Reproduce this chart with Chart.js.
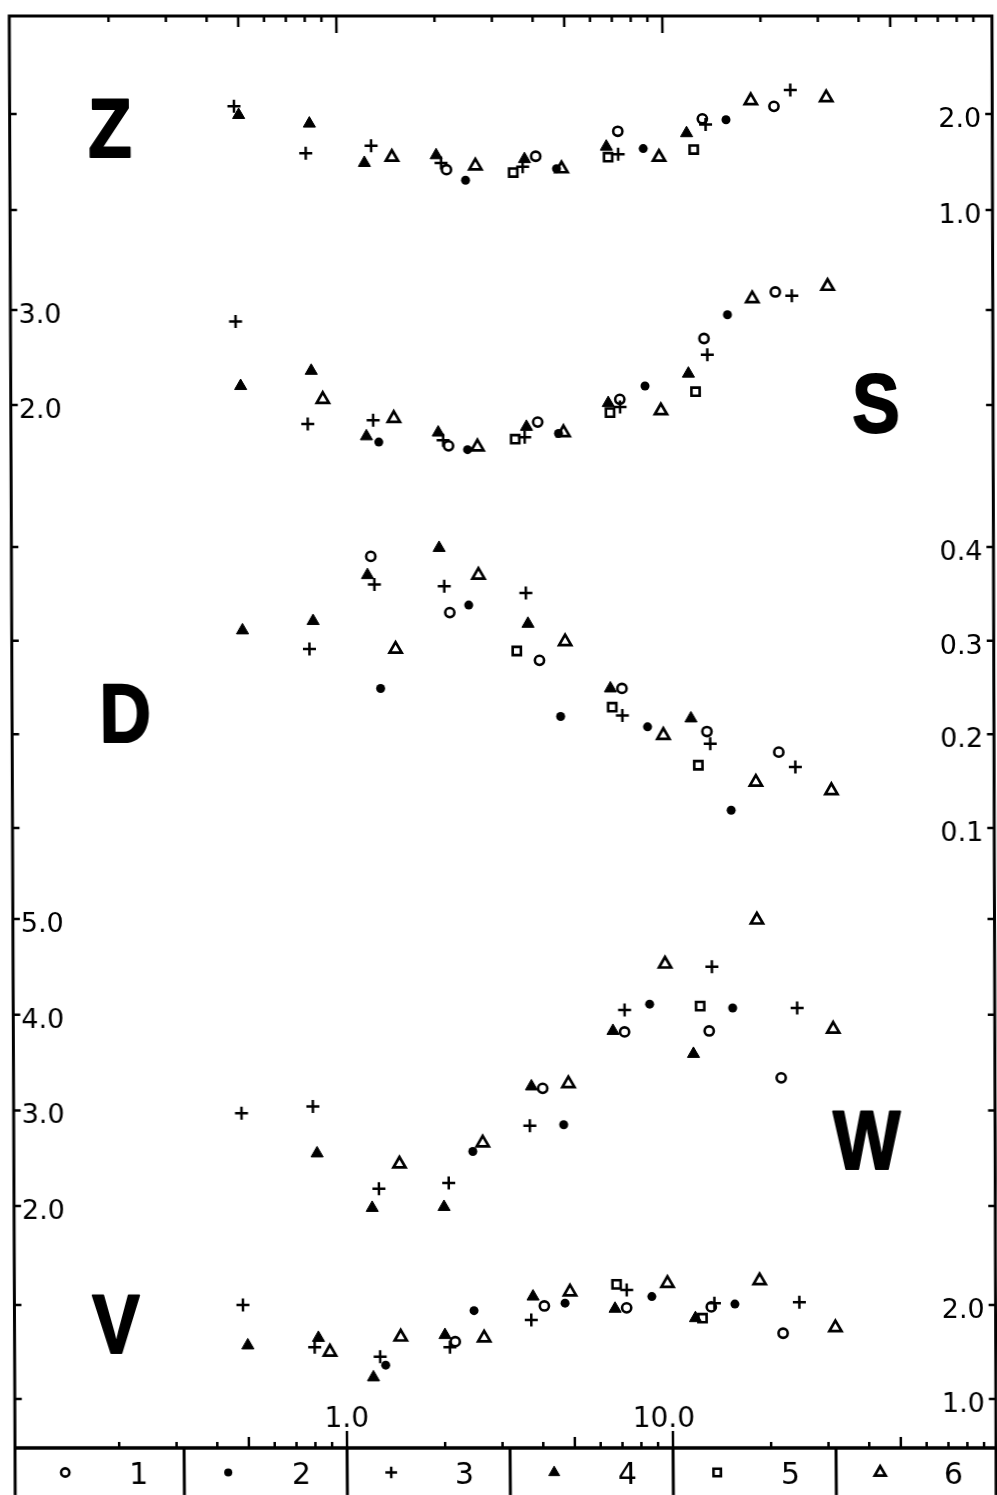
<!DOCTYPE html>
<html>
<head>
<meta charset="utf-8">
<script src="https://cdn.jsdelivr.net/npm/chart.js@4.4.1/dist/chart.umd.min.js"></script>
<style>
  html, body { margin: 0; padding: 0; background: #fff; overflow: hidden; }
  /* the scanned plate leans a little: top drifts left of the bottom */
  #wrap { width: 1006px; height: 1495px; transform: skewX(0.43deg); transform-origin: 0 1448px; }
  canvas { display: block; }
</style>
</head>
<body>
<div id="wrap"><canvas id="chart" width="1006" height="1495" style="width:1006px;height:1495px"></canvas></div>
<script>
// x values (log axis) of the six series, same for every panel
const xOpenCircle   = [1.24, 2.16, 4.06, 7.26, 13.2, 21.9];
const xDot          = [1.32, 2.47, 4.70, 8.68, 15.6];
const xPlus         = [0.483, 0.800, 1.27, 2.08, 3.70, 7.27, 13.5, 24.6];
const xTriangle     = [0.499, 0.822, 1.21, 2.01, 3.75, 6.69, 11.8];
const xSquare       = [3.46, 6.77, 12.4];
const xOpenTriangle = [0.891, 1.47, 2.65, 4.87, 9.70, 18.6, 31.7];

// y values per panel, one row per series (1 ○, 2 •, 3 +, 4 ▲, 5 □, 6 △)
const valuesZ = [
  [null, 1.42, 1.56, 1.82, 1.95, 2.08],
  [null, 1.31, 1.43, 1.64, 1.94],
  [2.08, 1.59, 1.67, 1.49, 1.45, 1.58, 1.89, 2.25],
  [1.99, 1.90, 1.49, 1.57, 1.53, 1.66, 1.80],
  [1.39, 1.55, 1.63],
  [null, 1.55, 1.46, 1.43, 1.55, 2.14, 2.17]
];
const valuesS = [
  [null, 1.57, 1.82, 2.06, 2.70, 3.19],
  [1.61, 1.53, 1.70, 2.20, 2.95],
  [2.88, 1.80, 1.84, 1.63, 1.66, 1.98, 2.53, 3.15],
  [2.20, 2.36, 1.67, 1.71, 1.77, 2.02, 2.33],
  [1.64, 1.92, 2.14],
  [2.06, 1.86, 1.56, 1.71, 1.94, 3.12, 3.25]
];
const valuesD = [
  [0.390, 0.330, 0.279, 0.249, 0.203, 0.181],
  [0.249, 0.338, 0.219, 0.208, 0.119],
  [null, 0.291, 0.360, 0.358, 0.351, 0.220, 0.190, 0.165],
  [0.311, 0.321, 0.370, 0.399, 0.318, 0.249, 0.217],
  [0.289, 0.229, 0.167],
  [null, 0.291, 0.370, 0.299, 0.199, 0.149, 0.140]
];
const valuesW = [
  [null, null, 3.23, 3.82, 3.83, 3.34],
  [null, 2.57, 2.85, 4.11, 4.07],
  [2.97, 3.04, 2.18, 2.24, 2.84, 4.05, 4.50, 4.07],
  [null, 2.55, 1.98, 1.99, 3.25, 3.83, 3.59],
  [null, null, 4.09],
  [null, 2.44, 2.66, 3.28, 4.53, 4.99, 3.85]
];
const valuesV = [
  [null, 1.61, 1.99, 1.97, 1.98, 1.70],
  [1.36, 1.94, 2.02, 2.09, 2.01],
  [2.00, 1.55, 1.45, 1.55, 1.84, 2.16, 2.02, 2.03],
  [1.57, 1.65, 1.23, 1.68, 2.09, 1.96, 1.86],
  [null, 2.22, 1.86],
  [1.50, 1.66, 1.65, 2.14, 2.23, 2.26, 1.76]
];

// tick labels
const ticksZ = [1.0, 2.0];
const ticksS = [2.0, 3.0];
const ticksD = [0.1, 0.2, 0.3, 0.4];
const ticksW = [2.0, 3.0, 4.0, 5.0];
const ticksV = [1.0, 2.0];
const xTickLabels = ['1.0', '10.0'];
const legendNumbers = ['1', '2', '3', '4', '5', '6'];

const seriesX = [xOpenCircle, xDot, xPlus, xTriangle, xSquare, xOpenTriangle];

// marker look of each series
const seriesStyles = [
  { pointStyle: 'circle',   radius: 4.6, fill: false, lw: 2.6 },
  { pointStyle: 'circle',   radius: 4.5, fill: true,  lw: 0 },
  { pointStyle: 'cross',    radius: 6.5, fill: false, lw: 2.5 },
  { pointStyle: 'triangle', radius: 7,   fill: true,  lw: 1 },
  { pointStyle: 'rect',     radius: 5.8, fill: false, lw: 2.6 },
  { pointStyle: 'triangle', radius: 7,   fill: false, lw: 2.7 }
];

// stacked panels: each one has its own y axis over the whole height
const panels = [
  { name: 'Z', values: valuesZ, ticks: ticksZ, side: 'right', min: -11.896, max: 3.021,  letterAt: [0.201, 1.86] },
  { name: 'S', values: valuesS, ticks: ticksS, side: 'left',  min: -8.979,  max: 6.095,  letterAt: [44.3, 2.03] },
  { name: 'D', values: valuesD, ticks: ticksD, side: 'right', min: -0.562,  max: 0.967,  letterAt: [0.217, 0.224] },
  { name: 'W', values: valuesW, ticks: ticksW, side: 'left',  min: -0.529,  max: 14.439, letterAt: [40.0, 2.70] },
  { name: 'V', values: valuesV, ticks: ticksV, side: 'right', min: 0.479,   max: 15.713, letterAt: [0.197, 1.81] }
];

const datasets = [];
panels.forEach(function(p) {
  p.values.forEach(function(row, s) {
    const st = seriesStyles[s];
    datasets.push({
      label: p.name + (s + 1),
      yAxisID: 'y' + p.name,
      data: seriesX[s].map((x, i) => ({ x: x, y: row[i] })).filter(d => d.y !== null && d.y !== undefined),
      pointStyle: st.pointStyle,
      pointRadius: st.radius,
      pointBorderWidth: st.lw,
      pointBackgroundColor: st.fill ? '#000' : 'rgba(0,0,0,0)',
      pointBorderColor: '#000',
      showLine: false
    });
  });
});

const scales = {
  x: { type: 'logarithmic', min: 0.0958, max: 97.9, display: false }
};
panels.forEach(function(p) {
  scales['y' + p.name] = { type: 'linear', min: p.min, max: p.max, display: false };
});

function drawMarker(ctx, st, x, y, scale) {
  ctx.fillStyle = st.fill ? '#000' : 'rgba(0,0,0,0)';
  ctx.strokeStyle = '#000';
  ctx.lineWidth = st.lw;
  Chart.helpers.drawPoint(ctx, { pointStyle: st.pointStyle, radius: st.radius * scale, rotation: 0, borderWidth: st.lw }, x, y);
}

// frame, ticks, labels, panel letters and the key row under the plot
const framePlugin = {
  id: 'frame',
  afterDraw(chart) {
    const ctx = chart.ctx;
    const a = chart.chartArea;
    const xs = chart.scales.x;
    const h = a.bottom - a.top;
    const leftAt = y => a.left + 5 * (a.bottom - y) / h;
    const rightAt = y => a.right + 6.7 * (a.bottom - y) / h;
    const foot = chart.height;

    ctx.save();
    ctx.strokeStyle = '#000';
    ctx.fillStyle = '#000';

    // outer frame and bottom axis line
    ctx.lineWidth = 3;
    ctx.beginPath();
    ctx.moveTo(leftAt(foot), foot);
    ctx.lineTo(leftAt(a.top), a.top);
    ctx.lineTo(rightAt(a.top), a.top);
    ctx.lineTo(rightAt(foot), foot);
    ctx.stroke();
    ctx.lineWidth = 3.5;
    ctx.beginPath();
    ctx.moveTo(leftAt(a.bottom), a.bottom);
    ctx.lineTo(rightAt(a.bottom), a.bottom);
    ctx.stroke();

    // log ticks top and bottom, pointing inwards
    ctx.lineWidth = 2.5;
    [0.1, 1, 10].forEach(function(dec) {
      for (let m = 1; m <= 9; m++) {
        const v = m * dec;
        if (v <= 0.1 || v >= 100) continue;
        const px = xs.getPixelForValue(v);
        const len = m === 1 ? 17 : (m === 5 ? 11 : 6);
        ctx.beginPath();
        ctx.moveTo(px, a.top); ctx.lineTo(px, a.top + len);
        ctx.moveTo(px, a.bottom); ctx.lineTo(px, a.bottom - len);
        ctx.stroke();
      }
    });

    // x labels with the decimal point over the tick
    ctx.font = '28px "DejaVu Sans"';
    ctx.textAlign = 'left';
    ctx.textBaseline = 'alphabetic';
    xTickLabels.forEach(function(t) {
      const v = parseFloat(t);
      const px = xs.getPixelForValue(v);
      const head = t.split('.')[0];
      const x0 = px - ctx.measureText(head).width - ctx.measureText('.').width / 2;
      ctx.fillText(t, x0, a.bottom - 21);
    });

    // y ticks on both edges, labels on one side per panel
    panels.forEach(function(p) {
      const ys = chart.scales['y' + p.name];
      p.ticks.forEach(function(v) {
        const py = ys.getPixelForValue(v);
        const l = leftAt(py), r = rightAt(py);
        ctx.lineWidth = 2.5;
        ctx.beginPath();
        ctx.moveTo(l, py); ctx.lineTo(l + 7, py);
        ctx.moveTo(r, py); ctx.lineTo(r - 7, py);
        ctx.stroke();
        ctx.font = '27px "DejaVu Sans"';
        if (p.side === 'left') {
          ctx.textAlign = 'left';
          ctx.fillText(v.toFixed(1), l + 8, py + 13);
        } else {
          ctx.textAlign = 'right';
          ctx.fillText(v.toFixed(1), r - 11, py + 13);
        }
      });

      // big panel letter
      const lx = xs.getPixelForValue(p.letterAt[0]);
      const ly = ys.getPixelForValue(p.letterAt[1]);
      ctx.save();
      ctx.translate(lx, ly);
      ctx.scale(0.85, 1);
      ctx.font = 'bold 84px "Liberation Sans"';
      ctx.textAlign = 'center';
      ctx.lineJoin = 'round';
      ctx.lineWidth = 2;
      ctx.fillText(p.name, 0, 30);
      ctx.strokeText(p.name, 0, 30);
      ctx.restore();
    });

    // key row: half-decade cells
    ctx.lineWidth = 3;
    for (let i = 1; i <= 5; i++) {
      const px = xs.getPixelForValue(Math.pow(10, -1 + 0.5 * i));
      ctx.beginPath();
      ctx.moveTo(px, a.bottom); ctx.lineTo(px, foot);
      ctx.stroke();
    }
    const rowY = (a.bottom + foot) / 2;
    legendNumbers.forEach(function(num, i) {
      const e0 = -1 + 0.5 * i;
      const mx = xs.getPixelForValue(Math.pow(10, e0 + 0.5 * 0.27));
      const nx = xs.getPixelForValue(Math.pow(10, e0 + 0.5 * 0.72));
      drawMarker(ctx, seriesStyles[i], mx, rowY + 1, 0.9);
      ctx.fillStyle = '#000';
      ctx.font = '30px "DejaVu Sans"';
      ctx.textAlign = 'center';
      ctx.fillText(num, nx, rowY + 12);
    });

    ctx.restore();
  }
};

new Chart(document.getElementById('chart'), {
  type: 'scatter',
  data: { datasets: datasets },
  options: {
    responsive: false,
    animation: false,
    events: [],
    layout: { padding: { left: 15, right: 10, top: 16, bottom: 47 } },
    scales: scales,
    plugins: {
      legend: { display: false },
      tooltip: { enabled: false }
    }
  },
  plugins: [framePlugin]
});
</script>
</body>
</html>
